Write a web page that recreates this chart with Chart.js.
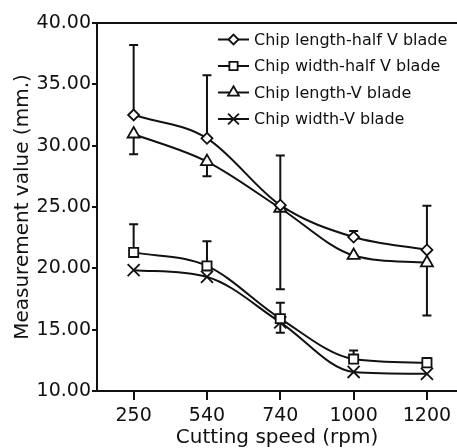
<!DOCTYPE html>
<html>
<head>
<meta charset="utf-8">
<script src="https://cdn.jsdelivr.net/npm/chart.js@4/dist/chart.umd.min.js"></script>
<style>
  body { margin: 0; background: #fff; }
  #wrap { width: 457px; height: 448px; }
</style>
</head>
<body>
<div id="wrap"><canvas id="chart" width="457" height="448"></canvas></div>
<script>
// cutting speed categories (rpm)
var speeds = ["250", "540", "740", "1000", "1200"];
var yTicks = [10, 15, 20, 25, 30, 35, 40];

// measured values (mm.)
var lengthHalfV = [32.5, 30.6, 25.15, 22.55, 21.5];
var widthHalfV  = [21.3, 20.2, 15.9, 12.6, 12.3];
var lengthV     = [30.95, 28.7, 24.9, 21.05, 20.45];
var widthV      = [19.85, 19.3, 15.6, 11.55, 11.4];

// one-sided error bars
var lengthHalfVErrUp = [5.7, 5.15, 4.05, 0.5, 3.6];
var widthHalfVErrUp  = [2.3, 2.0, 1.3, 0.7, 0.4];
var lengthVErrDown   = [1.65, 1.2, 6.6, 0, 4.3];
var widthVErrDown    = [0, 0, 0.85, 0, 0];

var ink = "#111";

function toPoints(vals) {
  return vals.map(function(v, i) { return { x: i, y: v }; });
}

function series(label, vals, style, radius, up, down) {
  return {
    label: label,
    data: toPoints(vals),
    errUp: up,
    errDown: down,
    borderColor: ink,
    borderWidth: 2,
    cubicInterpolationMode: "monotone",
    fill: false,
    pointStyle: style,
    pointRadius: radius,
    pointBorderWidth: 1.8,
    pointBackgroundColor: "#fff",
    pointBorderColor: ink
  };
}

var datasets = [
  series("Chip length-half V blade", lengthHalfV, "rectRot", 5.5, lengthHalfVErrUp, null),
  series("Chip width-half V blade", widthHalfV, "rect", 6.5, widthHalfVErrUp, null),
  series("Chip length-V blade", lengthV, "triangle", 7, null, lengthVErrDown),
  series("Chip width-V blade", widthV, "crossRot", 8.5, null, widthVErrDown)
];

// the plot runs off the right edge of the picture: stretch the x axis to the canvas edge
var stretchRight = {
  id: "stretchRight",
  afterLayout: function(chart) {
    var a = chart.chartArea, xs = chart.scales.x, w = chart.width;
    if (a.right < w) {
      a.right = w;
      a.width = w - a.left;
      xs.right = w;
      xs.width = w - xs.left;
      xs.configure();
    }
  }
};

// error bars, drawn under the lines and markers
var errorBars = {
  id: "errorBars",
  beforeDatasetsDraw: function(chart) {
    var ctx = chart.ctx, xs = chart.scales.x, ys = chart.scales.y;
    ctx.save();
    ctx.strokeStyle = ink;
    ctx.lineWidth = 2;
    chart.data.datasets.forEach(function(ds) {
      ds.data.forEach(function(p, i) {
        var ends = [];
        if (ds.errUp && ds.errUp[i] > 0) ends.push(p.y + ds.errUp[i]);
        if (ds.errDown && ds.errDown[i] > 0) ends.push(p.y - ds.errDown[i]);
        var px = xs.getPixelForValue(p.x), py = ys.getPixelForValue(p.y);
        ends.forEach(function(e) {
          var ey = ys.getPixelForValue(e);
          ctx.beginPath();
          ctx.moveTo(px, py);
          ctx.lineTo(px, ey);
          ctx.moveTo(px - 4.5, ey);
          ctx.lineTo(px + 4.5, ey);
          ctx.stroke();
        });
      });
    });
    ctx.restore();
  }
};

// top frame line + legend with line samples
var frameAndLegend = {
  id: "frameAndLegend",
  afterDraw: function(chart) {
    var ctx = chart.ctx, a = chart.chartArea;
    ctx.save();
    ctx.strokeStyle = ink;
    ctx.lineWidth = 2;
    ctx.beginPath();
    ctx.moveTo(a.left, a.top);
    ctx.lineTo(a.right, a.top);
    ctx.stroke();

    var x0 = 218, x1 = 249, tx = 254, y0 = 39.5, step = 26.5;
    ctx.font = "16px 'DejaVu Sans'";
    ctx.textBaseline = "middle";
    ctx.textAlign = "left";
    chart.data.datasets.forEach(function(ds, k) {
      var y = y0 + k * step;
      ctx.strokeStyle = ink;
      ctx.lineWidth = 2;
      ctx.beginPath();
      ctx.moveTo(x0, y);
      ctx.lineTo(x1, y);
      ctx.stroke();
      ctx.fillStyle = "#fff";
      ctx.strokeStyle = ink;
      ctx.lineWidth = 1.8;
      Chart.helpers.drawPoint(ctx, {
        pointStyle: ds.pointStyle,
        radius: ds.pointRadius * 0.9,
        borderWidth: 1.8,
        rotation: 0
      }, (x0 + x1) / 2, y);
      ctx.fillStyle = ink;
      ctx.fillText(ds.label, tx, y + 1);
    });
    ctx.restore();
  }
};

new Chart(document.getElementById("chart").getContext("2d"), {
  type: "line",
  data: { datasets: datasets },
  options: {
    responsive: false,
    animation: false,
    events: [],
    layout: { padding: { top: 23, right: 0, left: 0, bottom: 0 } },
    plugins: { legend: { display: false }, tooltip: { enabled: false } },
    scales: {
      x: {
        type: "linear",
        min: -0.5,
        max: 4.41,
        afterFit: function(s) { s.height = 57; s.paddingRight = 0; s.paddingLeft = 0; },
        afterBuildTicks: function(s) {
          s.ticks = speeds.map(function(c, i) { return { value: i }; });
        },
        border: { display: true, color: ink, width: 2 },
        grid: { drawOnChartArea: false, drawTicks: true, tickLength: 9, color: ink, lineWidth: 2 },
        ticks: {
          callback: function(v) { return speeds[v]; },
          font: { family: "DejaVu Sans", size: 19 },
          color: ink,
          padding: 5,
          maxRotation: 0,
          autoSkip: false
        },
        title: {
          display: true,
          text: "Cutting speed (rpm)",
          font: { family: "DejaVu Sans", size: 20, lineHeight: 1.0 },
          color: ink,
          padding: { top: 0, bottom: 0 }
        }
      },
      y: {
        min: yTicks[0],
        max: yTicks[yTicks.length - 1],
        afterFit: function(s) { s.width = 97; },
        afterBuildTicks: function(s) {
          s.ticks = yTicks.map(function(v) { return { value: v }; });
        },
        border: { display: true, color: ink, width: 2 },
        grid: { drawOnChartArea: false, drawTicks: true, tickLength: 5, color: ink, lineWidth: 2 },
        ticks: {
          callback: function(v) { return v.toFixed(2); },
          font: { family: "DejaVu Sans", size: 19 },
          color: ink,
          padding: 1
        },
        title: {
          display: true,
          text: "Measurement value (mm.)",
          font: { family: "DejaVu Sans", size: 20, lineHeight: 1.0 },
          color: ink,
          padding: { top: 13, bottom: 0 }
        }
      }
    }
  },
  plugins: [stretchRight, errorBars, frameAndLegend]
});
</script>
</body>
</html>
